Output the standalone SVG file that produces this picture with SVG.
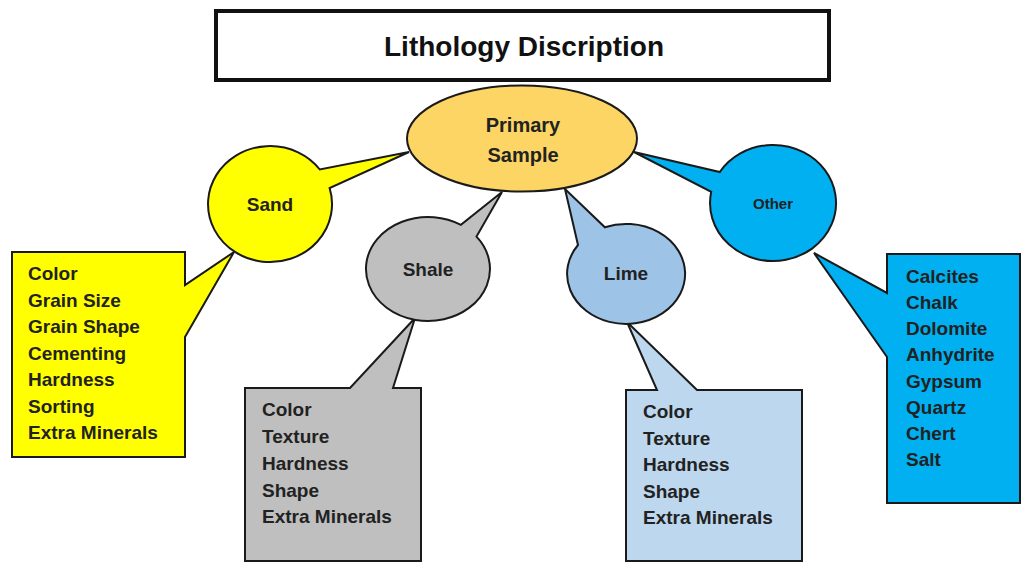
<svg xmlns="http://www.w3.org/2000/svg" width="1021" height="563" viewBox="0 0 1021 563">
<style>
.shape{stroke:#1a1a1a;stroke-width:2;stroke-linejoin:miter}
.t{font-family:"Liberation Sans",Arial,sans-serif;font-weight:bold;fill:#222;font-size:19px}
.c{text-anchor:middle}
.title{font-family:"Liberation Sans",Arial,sans-serif;font-weight:bold;fill:#111;font-size:28px;text-anchor:middle}
</style>
<rect width="1021" height="563" fill="#ffffff"/>
<g id="title">
<rect x="216" y="11" width="613" height="69" fill="#ffffff" stroke="#111" stroke-width="4"/>
<text class="title" x="524" y="56">Lithology Discription</text>
</g>
<g id="connectors"></g>
<g id="sand-list">
<path class="shape" fill="#FFFF00" d="M12,252 H185 V285 L234,252 L185,337 V457 H12 Z"/>
<text class="t" x="28" y="280">Color</text>
<text class="t" x="28" y="307">Grain Size</text>
<text class="t" x="28" y="333">Grain Shape</text>
<text class="t" x="28" y="360">Cementing</text>
<text class="t" x="28" y="386">Hardness</text>
<text class="t" x="28" y="413">Sorting</text>
<text class="t" x="28" y="439">Extra Minerals</text>
</g>
<g id="shale-list">
<path class="shape" fill="#BFBFBF" d="M245,388 H350 L415,318 L393,388 H421 V561 H245 Z"/>
<text class="t" x="262" y="416">Color</text>
<text class="t" x="262" y="443">Texture</text>
<text class="t" x="262" y="470">Hardness</text>
<text class="t" x="262" y="497">Shape</text>
<text class="t" x="262" y="523">Extra Minerals</text>
</g>
<g id="lime-list">
<path class="shape" fill="#BDD7EE" d="M626,390 H657 L627,322 L697,390 H802 V561 H626 Z"/>
<text class="t" x="643" y="418">Color</text>
<text class="t" x="643" y="445">Texture</text>
<text class="t" x="643" y="471">Hardness</text>
<text class="t" x="643" y="498">Shape</text>
<text class="t" x="643" y="524">Extra Minerals</text>
</g>
<g id="other-list">
<path class="shape" fill="#00B0F0" d="M887,254 H1020 V503 H887 V357 L814,253 L887,293 Z"/>
<text class="t" x="906" y="283">Calcites</text>
<text class="t" x="906" y="309">Chalk</text>
<text class="t" x="906" y="335">Dolomite</text>
<text class="t" x="906" y="361">Anhydrite</text>
<text class="t" x="906" y="388">Gypsum</text>
<text class="t" x="906" y="414">Quartz</text>
<text class="t" x="906" y="440">Chert</text>
<text class="t" x="906" y="466">Salt</text>
</g>
<g id="sand">
<path class="shape" fill="#FFFF00" d="M329.6,188 A62,58 0 1 1 319.8,169.5 L409,152 Z"/>
<text class="t c" x="270" y="211">Sand</text>
</g>
<g id="shale">
<path class="shape" fill="#BFBFBF" d="M476.5,236.6 A62,52 0 1 1 460.9,224.9 L502,192 Z"/>
<text class="t c" x="428" y="276">Shale</text>
</g>
<g id="lime">
<path class="shape" fill="#9DC3E6" d="M604.9,227.3 A59,50 0 1 1 578,245 L565,189 Z"/>
<text class="t c" x="626" y="280">Lime</text>
</g>
<g id="other">
<path class="shape" fill="#00B0F0" d="M719.8,172 A63,58 0 1 1 711.2,191.9 L634,152 Z"/>
<text class="t c" x="773" y="209" style="font-size:15px">Other</text>
</g>
<g id="primary">
<ellipse class="shape" cx="522" cy="138.5" rx="115" ry="53" fill="#FCD565"/>
<text class="t c" x="523" y="132" style="font-size:20px">Primary</text>
<text class="t c" x="523" y="162" style="font-size:20px">Sample</text>
</g>
</svg>
